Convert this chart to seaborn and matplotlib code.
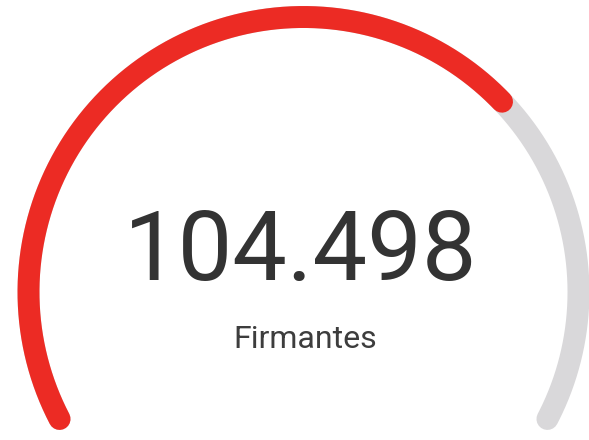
import numpy as np
import pandas as pd
import matplotlib
matplotlib.use("Agg")
import matplotlib.pyplot as plt
import seaborn as sns

# gauge data
value = 104498
max_value = 150000
value_text = "104.498"
label = "Firmantes"

start_deg = 207.5
end_deg = -27.5

sns.set_theme(style="white")
plt.rcParams['font.family'] = ['Roboto', 'DejaVu Sans']

fig = plt.figure(figsize=(5.89, 4.40), dpi=100)
ax = fig.add_axes([0, 0, 1, 1])


def arc(frac_from, frac_to, n=300):
    a0 = np.deg2rad(start_deg + (end_deg - start_deg) * frac_from)
    a1 = np.deg2rad(start_deg + (end_deg - start_deg) * frac_to)
    t = np.linspace(a0, a1, n)
    return pd.DataFrame({"x": np.cos(t), "y": np.sin(t)})


frac = value / max_value
bg = arc(0, 1)
fg = arc(0, frac)

sns.lineplot(data=bg, x="x", y="y", sort=False, color="#d9d8da",
             linewidth=15.8, solid_capstyle="round", ax=ax)
sns.lineplot(data=fg, x="x", y="y", sort=False, color="#ec2b24",
             linewidth=15.8, solid_capstyle="round", ax=ax)

ax.text(-0.01, 0.044, value_text, ha="center", va="baseline",
        fontsize=70, color="#333333")
ax.text(0.005, -0.204, label, ha="center", va="baseline",
        fontsize=23, color="#3d3d3d")

ax.set_xlim(-1.1036, 1.0382)
ax.set_ylim(-0.5382, 1.0618)
ax.axis("off")

fig.savefig("out.png", dpi=100, facecolor="white")
